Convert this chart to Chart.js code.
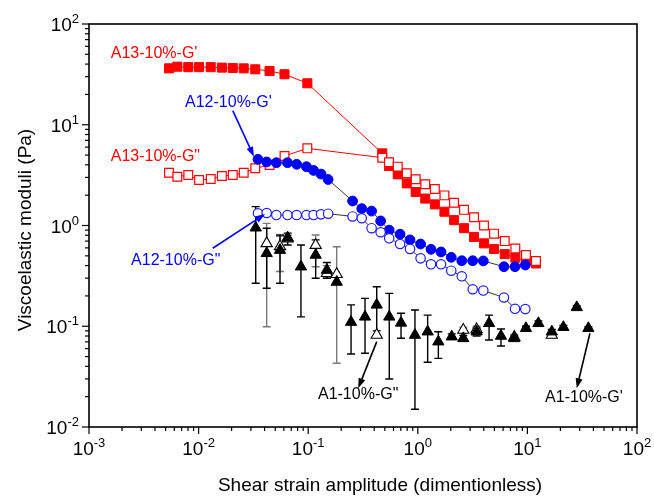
<!DOCTYPE html>
<html>
<head>
<meta charset="utf-8">
<script src="https://cdn.jsdelivr.net/npm/chart.js@4.4.1/dist/chart.umd.min.js"></script>
<style>
  html, body { margin: 0; padding: 0; background: #fff; }
  #wrap { width: 654px; height: 497px; position: relative; }
</style>
</head>
<body>
<div id="wrap"><canvas id="modChart"></canvas></div>
<script>
// strain sweep, viscoelastic moduli (log-log)

// A13-10%
const a13X = [0.00537, 0.0064, 0.00805, 0.0101, 0.0129, 0.0163, 0.0205, 0.0258, 0.0329, 0.0444, 0.0608, 0.0982,
  0.474, 0.546, 0.656, 0.793, 0.957, 1.17, 1.43, 1.75, 2.14, 2.64, 3.26, 4.02, 4.96, 6.21, 7.76, 9.70, 11.97];
const a13Gp = [36.3, 37.7, 37.3, 37.3, 37.3, 36.9, 36.6, 36.3, 35.5, 34.2, 31.7, 25.8,
  5.2, 3.9, 3.22, 2.62, 2.15, 1.85, 1.62, 1.37, 1.13, 0.94, 0.77, 0.665, 0.585, 0.52, 0.48, 0.45, 0.42];
const a13Gpp = [3.34, 3.05, 3.17, 2.83, 2.90, 3.10, 3.17, 3.34, 3.70, 3.99, 4.90, 5.83,
  4.71, 4.24, 3.84, 3.30, 2.88, 2.57, 2.30, 1.99, 1.68, 1.43, 1.21, 1.00, 0.83, 0.70, 0.59, 0.51, 0.445];

// A12-10%
const a12X = [0.0348, 0.0418, 0.0512, 0.0647, 0.0785, 0.0964, 0.112, 0.131, 0.152, 0.254, 0.308, 0.379, 0.458,
  0.548, 0.689, 0.849, 1.06, 1.32, 1.63, 2.02, 2.52, 3.17, 3.96, 6.11, 7.71, 9.57];
const a12Gp = [4.54, 4.27, 4.20, 4.20, 4.05, 3.83, 3.52, 3.24, 2.86, 1.75, 1.47, 1.39, 1.11,
  0.90, 0.82, 0.72, 0.655, 0.58, 0.546, 0.483, 0.447, 0.447, 0.445, 0.39, 0.39, 0.405];
const a12Gpp = [1.32, 1.33, 1.27, 1.27, 1.27, 1.27, 1.27, 1.29, 1.31, 1.23, 1.18, 0.94, 0.857,
  0.746, 0.655, 0.585, 0.472, 0.412, 0.412, 0.356, 0.313, 0.233, 0.226, 0.193, 0.149, 0.148];

// A1-10% (with error bars)
const a1X = [0.0332, 0.0418, 0.0553, 0.065, 0.0859, 0.117, 0.148, 0.182, 0.246, 0.330, 0.422, 0.549, 0.703, 0.942,
  1.23, 1.54, 2.04, 2.60, 3.44, 4.47, 5.74, 7.59, 9.70, 12.6, 16.7, 21.3, 28.2, 36.0];
const a1Gp = [0.95, 0.53, 0.57, 0.757, 0.39, 0.51, 0.361, 0.275, 0.110, 0.124, 0.163, 0.124, 0.108, 0.0818,
  0.0883, 0.0703, 0.0788, 0.0758, 0.0883, 0.107, 0.080, 0.0758, 0.0955, 0.107, 0.0883, 0.0978, 0.154, 0.0955];
const a1GpLo = [0.267, 0.238, 0.267, 0.64, 0.124, 0.30, 0.30, null, 0.053, 0.054, 0.09, 0.030, 0.076, 0.015,
  0.0439, 0.048, 0.074, 0.071, 0.080, 0.073, 0.0637, 0.072, 0.091, 0.100, 0.083, 0.094, 0.148, 0.092];
const a1GpHi = [1.54, 0.94, 0.805, 0.84, 0.64, 0.72, 0.43, null, 0.163, 0.189, 0.247, 0.212, 0.1345, 0.145,
  0.129, 0.0883, 0.084, 0.081, 0.096, 0.129, 0.094, 0.080, 0.100, 0.113, 0.093, 0.102, 0.160, 0.099];
const a1Gpp = [null, 0.665, 0.62, 0.74, null, 0.638, 0.336, 0.328, null, null, 0.0818, null, null, null,
  null, null, null, 0.0918, 0.093, null, null, 0.078, null, null, 0.082, null, null, null];
const a1GppLo = [null, 0.099, 0.35, 0.70, null, 0.39, 0.30, 0.0429, null, null, null, null, null, null,
  null, null, null, 0.085, 0.086, null, null, 0.072, null, null, 0.077, null, null, null];
const a1GppHi = [null, 1.05, 0.78, 0.80, null, 0.805, 0.40, 0.616, null, null, null, null, null, null,
  null, null, null, 0.098, 0.100, null, null, 0.083, null, null, 0.087, null, null, null];

// axes
const xTickExps = [-3, -2, -1, 0, 1, 2];
const yTickExps = [-2, -1, 0, 1, 2];
const xTitle = "Shear strain amplitude (dimentionless)";
const yTitle = "Viscoelastic moduli (Pa)";

// labels and arrows, in data units
const noteText = ["A13-10%-G'", "A12-10%-G'", "A13-10%-G\"", "A12-10%-G\"", "A1-10%-G\"", "A1-10%-G'"];
const noteX = [0.00158, 0.00752, 0.00158, 0.00242, 0.1228, 14.5];
const noteY = [51.2, 16.6, 4.82, 0.448, 0.0208, 0.0194];
const noteColor = ["#ff0000", "#0000ff", "#ff0000", "#0000ff", "#000000", "#000000"];

const arrowX1 = [0.0205, 0.01346, 0.422, 37.2];
const arrowY1 = [13.8, 0.594, 0.0703, 0.0851];
const arrowX2 = [0.032, 0.0404, 0.286, 28.2];
const arrowY2 = [4.82, 1.30, 0.0242, 0.0242];
const arrowColor = ["#0000ff", "#0000ff", "#000000", "#000000"];

const FONT = "'Liberation Sans', Arial, sans-serif";

function pts(xs, ys) {
  return xs.map((x, i) => ({ x: x, y: ys[i] })).filter(p => p.y != null);
}

function drawErrorBars(ctx, xs, ys, xv, lo, hi, color) {
  ctx.strokeStyle = color;
  ctx.lineWidth = 1.4;
  for (let i = 0; i < xv.length; i++) {
    if (lo[i] == null || hi[i] == null) continue;
    const px = xs.getPixelForValue(xv[i]);
    const pLo = ys.getPixelForValue(lo[i]);
    const pHi = ys.getPixelForValue(hi[i]);
    ctx.beginPath();
    ctx.moveTo(px, pLo); ctx.lineTo(px, pHi);
    ctx.moveTo(px - 4, pLo); ctx.lineTo(px + 4, pLo);
    ctx.moveTo(px - 4, pHi); ctx.lineTo(px + 4, pHi);
    ctx.stroke();
  }
}

function drawArrow(ctx, x1, y1, x2, y2, color) {
  const ang = Math.atan2(y2 - y1, x2 - x1);
  const head = 10, half = 3.5;
  ctx.strokeStyle = color;
  ctx.fillStyle = color;
  ctx.lineWidth = 1.6;
  ctx.beginPath();
  ctx.moveTo(x1, y1);
  ctx.lineTo(x2 - Math.cos(ang) * head * 0.8, y2 - Math.sin(ang) * head * 0.8);
  ctx.stroke();
  ctx.beginPath();
  ctx.moveTo(x2, y2);
  ctx.lineTo(x2 - Math.cos(ang) * head - Math.sin(ang) * half, y2 - Math.sin(ang) * head + Math.cos(ang) * half);
  ctx.lineTo(x2 - Math.cos(ang) * head + Math.sin(ang) * half, y2 - Math.sin(ang) * head - Math.cos(ang) * half);
  ctx.closePath();
  ctx.fill();
}

function drawLogTicks(ctx, scale, isX, area) {
  const lo = Math.round(Math.log10(scale.min));
  const hi = Math.round(Math.log10(scale.max));
  ctx.strokeStyle = "#000";
  ctx.lineWidth = 1.2;
  for (let e = lo; e <= hi; e++) {
    for (let m = 1; m <= 9; m++) {
      if (e === hi && m > 1) break;
      const p = scale.getPixelForValue(m * Math.pow(10, e));
      const len = m === 1 ? 7 : 4;
      ctx.beginPath();
      if (isX) { ctx.moveTo(p, area.bottom); ctx.lineTo(p, area.bottom + len); }
      else { ctx.moveTo(area.left, p); ctx.lineTo(area.left - len, p); }
      ctx.stroke();
    }
  }
}

function powerLabel(ctx, exp, x, y, align) {
  ctx.font = "19px " + FONT;
  const base = "10";
  const wBase = ctx.measureText(base).width;
  ctx.font = "13px " + FONT;
  const sup = String(exp);
  const wSup = ctx.measureText(sup).width;
  let left = align === "right" ? x - wBase - wSup : x - (wBase + wSup) / 2;
  ctx.fillStyle = "#000";
  ctx.textAlign = "left";
  ctx.textBaseline = "alphabetic";
  ctx.font = "19px " + FONT;
  ctx.fillText(base, left, y);
  ctx.font = "13px " + FONT;
  ctx.fillText(sup, left + wBase, y - 8);
}

const decorPlugin = {
  id: "decor",
  beforeDatasetsDraw(chart) {
    const { ctx } = chart;
    const xs = chart.scales.x, ys = chart.scales.y;
    ctx.save();
    drawErrorBars(ctx, xs, ys, a1X, a1GppLo, a1GppHi, "#7a7a7a");
    drawErrorBars(ctx, xs, ys, a1X, a1GpLo, a1GpHi, "#000000");
    ctx.restore();
  },
  afterDatasetsDraw(chart) {
    const { ctx } = chart;
    const xs = chart.scales.x, ys = chart.scales.y;
    ctx.save();
    for (let i = 0; i < arrowX1.length; i++) {
      drawArrow(ctx,
        xs.getPixelForValue(arrowX1[i]), ys.getPixelForValue(arrowY1[i]),
        xs.getPixelForValue(arrowX2[i]), ys.getPixelForValue(arrowY2[i]),
        arrowColor[i]);
    }
    ctx.font = "16px " + FONT;
    ctx.textAlign = "left";
    ctx.textBaseline = "middle";
    for (let i = 0; i < noteText.length; i++) {
      ctx.fillStyle = noteColor[i];
      ctx.fillText(noteText[i], xs.getPixelForValue(noteX[i]), ys.getPixelForValue(noteY[i]));
    }
    ctx.restore();
  },
  afterDraw(chart) {
    const { ctx, chartArea: a } = chart;
    const xs = chart.scales.x, ys = chart.scales.y;
    ctx.save();
    ctx.strokeStyle = "#000";
    ctx.lineWidth = 1.6;
    ctx.strokeRect(a.left, a.top, a.right - a.left, a.bottom - a.top);
    drawLogTicks(ctx, xs, true, a);
    drawLogTicks(ctx, ys, false, a);

    xTickExps.forEach(e => powerLabel(ctx, e, xs.getPixelForValue(Math.pow(10, e)), a.bottom + 28, "center"));
    yTickExps.forEach(e => powerLabel(ctx, e, a.left - 10, ys.getPixelForValue(Math.pow(10, e)) + 7, "right"));

    ctx.fillStyle = "#000";
    ctx.font = "19px " + FONT;
    ctx.textAlign = "center";
    ctx.textBaseline = "middle";
    ctx.fillText(xTitle, 380, a.bottom + 59);
    ctx.translate(26, 230);
    ctx.rotate(-Math.PI / 2);
    ctx.fillText(yTitle, 0, 0);
    ctx.restore();
  }
};

const data = {
  datasets: [
    {
      label: "A13-10%-G'", data: pts(a13X, a13Gp), order: 6,
      showLine: true, borderColor: "#ff0000", borderWidth: 1,
      pointStyle: "rect", pointRadius: 6.4, pointBackgroundColor: "#ff0000", pointBorderColor: "#ff0000", pointBorderWidth: 1
    },
    {
      label: "A13-10%-G\"", data: pts(a13X, a13Gpp), order: 5,
      showLine: true, borderColor: "#ff0000", borderWidth: 1,
      pointStyle: "rect", pointRadius: 6.2, pointBackgroundColor: "#ffffff", pointBorderColor: "#ff0000", pointBorderWidth: 1.2
    },
    {
      label: "A12-10%-G'", data: pts(a12X, a12Gp), order: 4,
      showLine: true, borderColor: "#000000", borderWidth: 0.8,
      pointStyle: "circle", pointRadius: 4.9, pointBackgroundColor: "#0000ff", pointBorderColor: "#0000ff", pointBorderWidth: 1
    },
    {
      label: "A12-10%-G\"", data: pts(a12X, a12Gpp), order: 3,
      showLine: true, borderColor: "#000000", borderWidth: 0.8,
      pointStyle: "circle", pointRadius: 4.7, pointBackgroundColor: "#ffffff", pointBorderColor: "#1a1aff", pointBorderWidth: 1.2
    },
    {
      label: "A1-10%-G\"", data: pts(a1X, a1Gpp), order: 2,
      showLine: false,
      pointStyle: "triangle", pointRadius: 6.5, pointBackgroundColor: "#ffffff", pointBorderColor: "#000000", pointBorderWidth: 1.1
    },
    {
      label: "A1-10%-G'", data: pts(a1X, a1Gp), order: 1,
      showLine: false,
      pointStyle: "triangle", pointRadius: 6.5, pointBackgroundColor: "#000000", pointBorderColor: "#000000", pointBorderWidth: 1
    }
  ]
};

const config = {
  type: "scatter",
  data: data,
  options: {
    responsive: true,
    maintainAspectRatio: false,
    animation: false,
    layout: { padding: { left: 89, right: 17, top: 24, bottom: 70 } },
    plugins: { legend: { display: false }, tooltip: { enabled: false } },
    scales: {
      x: { type: "logarithmic", min: 1e-3, max: 1e2, display: false },
      y: { type: "logarithmic", min: 1e-2, max: 1e2, display: false }
    }
  },
  plugins: [decorPlugin]
};

new Chart(document.getElementById("modChart").getContext("2d"), config);
</script>
</body>
</html>
